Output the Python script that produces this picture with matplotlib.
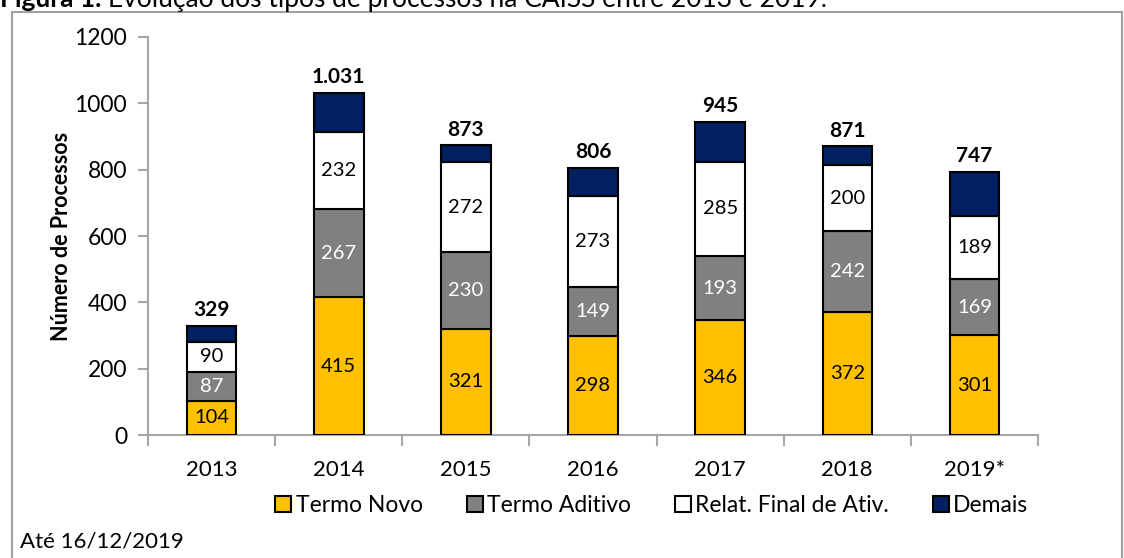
import matplotlib.pyplot as plt
from matplotlib.patches import Rectangle
import numpy as np

plt.rcParams['font.family'] = ['Lato', 'DejaVu Sans']

anos = ["2013", "2014", "2015", "2016", "2017", "2018", "2019*"]
termo_novo = [104, 415, 321, 298, 346, 372, 301]
termo_aditivo = [87, 267, 230, 149, 193, 242, 169]
relat_final = [90, 232, 272, 273, 285, 200, 189]
demais = [48, 117, 50, 86, 121, 57, 135]
totais = ["329", "1.031", "873", "806", "945", "871", "747"]

series = [
    ("Termo Novo", termo_novo, "#FFC000", "black"),
    ("Termo Aditivo", termo_aditivo, "#808080", "white"),
    ("Relat. Final de Ativ.", relat_final, "#FFFFFF", "black"),
    ("Demais", demais, "#002060", None),
]

fig = plt.figure(figsize=(11.24, 5.58), dpi=100)
ax = fig.add_axes([0.1317, 0.2204, 0.7918, 0.7133])

x = np.arange(len(anos))
bottom = np.zeros(len(anos))
for nome, vals, cor, cor_txt in series:
    bars = ax.bar(x, vals, 0.39, bottom=bottom, color=cor, edgecolor="black",
                  linewidth=1.5, label=nome, zorder=3)
    if cor_txt:
        for b, v in zip(bars, vals):
            ax.text(b.get_x() + b.get_width() / 2, b.get_y() + v / 2, str(v),
                    ha="center", va="center", fontsize=14.5, color=cor_txt, zorder=4)
    bottom += np.array(vals)

for xi, top, t in zip(x, bottom, totais):
    ax.annotate(t, (xi, top), xytext=(0, 4), textcoords="offset points",
                ha="center", va="bottom", fontsize=15, fontweight="bold")

ax.set_xlim(-0.5, len(anos) - 0.5)
ax.set_ylim(0, 1200)
ax.set_yticks(range(0, 1201, 200))
ax.set_xticks(np.arange(-0.5, len(anos)), labels=[])
ax.set_xticks(x, labels=anos, minor=True)
ax.tick_params(axis="x", which="major", length=8, color="#A6A6A6", width=1.5)
ax.tick_params(axis="x", which="minor", length=0, pad=18, labelsize=16)
ax.tick_params(axis="y", length=7, color="#A6A6A6", width=1.5, labelsize=16.5, pad=8)
for s in ["top", "right"]:
    ax.spines[s].set_visible(False)
for s in ["left", "bottom"]:
    ax.spines[s].set_color("#A6A6A6")
    ax.spines[s].set_linewidth(1.5)

ax.set_ylabel("Número de Processos", fontsize=15.5, fontweight="bold", labelpad=2)

fig.legend(loc="center", bbox_to_anchor=(0.58, 0.094), ncol=4, frameon=False,
           fontsize=16.5, handlelength=0.7, handleheight=0.7, handletextpad=0.2,
           columnspacing=1.9)

fig.text(0.018, 0.03, "Até 16/12/2019", fontsize=16, va="center")
t1 = fig.text(0.0, 0.9875, "Figura 1. ", fontsize=19, fontweight="bold", va="baseline")
fig.canvas.draw()
bb = t1.get_window_extent()
fig.text(bb.x1 / fig.bbox.width, 0.9875,
         "Evolução dos tipos de processos na CAISS entre 2013 e 2019.",
         fontsize=19, va="baseline")

fig.patches.append(Rectangle((0.011, -0.1), 0.987, 1.1 - 12 / 558, transform=fig.transFigure,
                             fill=False, edgecolor="#A0A0A0", linewidth=1.5))

fig.savefig("out.png", dpi=100)
